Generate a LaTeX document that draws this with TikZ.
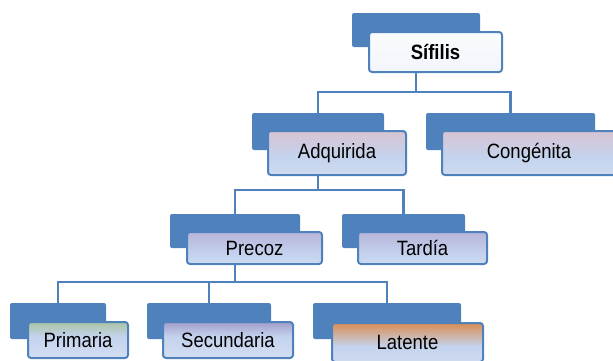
\documentclass[tikz,border=0pt]{standalone}
\usepackage{fontspec}
\setmainfont{Liberation Sans}
\definecolor{azul}{HTML}{4F81BD}
\definecolor{bajo}{HTML}{DCE5F4}
\definecolor{medio}{HTML}{C4D3EE}
\definecolor{cblanco}{HTML}{EDF2FA}
\definecolor{crosa}{HTML}{E6B7BC}
\definecolor{clila}{HTML}{AE9FCA}
\definecolor{cverde}{HTML}{86AE3E}
\definecolor{cmorado}{HTML}{76579A}
\definecolor{cnaranja}{HTML}{E46C0A}
\colorlet{mverde}{medio!35!cverde}
\colorlet{mmorado}{medio!35!cmorado}
\colorlet{mnaranja}{medio!25!cnaranja}
\pgfdeclareverticalshading{sombra-sif}{100bp}{color(0bp)=(cblanco); color(100bp)=(white)}
\pgfdeclareverticalshading{sombra-rosa}{100bp}{color(0bp)=(bajo); color(45bp)=(medio); color(100bp)=(crosa)}
\pgfdeclareverticalshading{sombra-lila}{100bp}{color(0bp)=(bajo); color(40bp)=(medio); color(100bp)=(clila)}
\pgfdeclareverticalshading{sombra-verde}{100bp}{color(0bp)=(bajo); color(55bp)=(medio); color(85bp)=(mverde); color(100bp)=(cverde)}
\pgfdeclareverticalshading{sombra-morado}{100bp}{color(0bp)=(bajo); color(55bp)=(medio); color(85bp)=(mmorado); color(100bp)=(cmorado)}
\pgfdeclareverticalshading{sombra-naranja}{100bp}{color(0bp)=(bajo); color(45bp)=(medio); color(78bp)=(mnaranja); color(100bp)=(cnaranja)}
\newcommand\rotulo[1]{\scalebox{1}[1.12]{#1}}

\begin{document}
\begin{tikzpicture}[x=1pt, y=-1pt,
  fondo/.style={fill=azul, rounded corners=2pt, inner sep=0pt},
  caja/.style={draw=azul, line width=2pt, rounded corners=3pt, inner sep=0pt, font=\fontsize{18.5}{20}\selectfont},
  enlace/.style={draw=azul, line width=2.5pt}]
\clip (0,0) rectangle (613,360);
% nivel 1
\node[fondo, minimum width=128, minimum height=34] (sif-b) at (416,30) {};
\node[caja, shading=sombra-sif, minimum width=133, minimum height=40] (sif) at (435.5,52) {\rotulo{\bfseries Sífilis}};
% nivel 2
\node[fondo, minimum width=132, minimum height=37] (adq-b) at (318,131.5) {};
\node[caja, shading=sombra-rosa, minimum width=138, minimum height=44] (adq) at (337,153) {\rotulo{Adquirida}};
\node[fondo, minimum width=169, minimum height=37] (con-b) at (510.5,131.5) {};
\node[caja, shading=sombra-rosa, minimum width=174, minimum height=44] (con) at (529,153) {\rotulo{Congénita}};
% nivel 3
\node[fondo, minimum width=130, minimum height=34] (pre-b) at (235,231) {};
\node[caja, shading=sombra-lila, minimum width=135, minimum height=32] (pre) at (254.5,248) {\rotulo{Precoz}};
\node[fondo, minimum width=123, minimum height=34] (tar-b) at (403.5,231) {};
\node[caja, shading=sombra-lila, minimum width=129, minimum height=32] (tar) at (422.5,248) {\rotulo{Tardía}};
% nivel 4
\node[fondo, minimum width=96, minimum height=36] (pri-b) at (58,321) {};
\node[caja, shading=sombra-verde, minimum width=100, minimum height=36] (pri) at (78,340) {\rotulo{Primaria}};
\node[fondo, minimum width=124, minimum height=36] (sec-b) at (209,321) {};
\node[caja, shading=sombra-morado, minimum width=130, minimum height=36] (sec) at (228,340) {\rotulo{Secundaria}};
\node[fondo, minimum width=148, minimum height=36] (lat-b) at (387,321) {};
\node[caja, shading=sombra-naranja, minimum width=151, minimum height=39] (lat) at (407.5,342.5) {\rotulo{Latente}};
% conectores
\coordinate (bus1) at (416,92);
\coordinate (bus2) at (318,190);
\coordinate (bus3) at (235,282);
\draw[enlace] (sif.south -| bus1) -- (bus1) -| (adq-b.north);
\draw[enlace] (bus1) -| (con-b.north);
\draw[enlace] (adq.south -| bus2) -- (bus2) -| (pre-b.north);
\draw[enlace] (bus2) -| (tar-b.north);
\draw[enlace] (pre.south -| bus3) -- (bus3) -| (pri-b.north);
\draw[enlace] (bus3) -| (sec-b.north);
\draw[enlace] (bus3) -| (lat-b.north);
\end{tikzpicture}
\end{document}
